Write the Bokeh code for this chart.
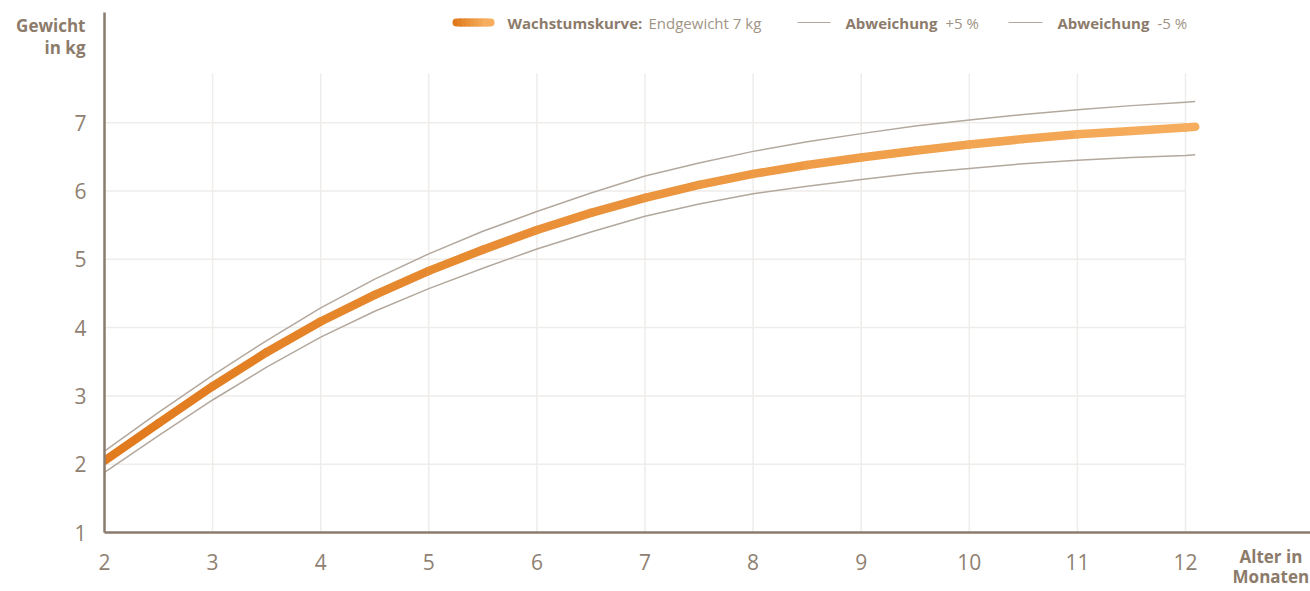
import numpy as np
from bokeh.plotting import figure
from bokeh.models import Range1d, FixedTicker, Label, LinearAxis
from bokeh.embed import file_html
from bokeh.resources import INLINE

# ---- data ----
months = [2, 2.5, 3, 3.5, 4, 4.5, 5, 5.5, 6, 6.5, 7, 7.5, 8, 8.5, 9, 9.5,
          10, 10.5, 11, 11.5, 12, 12.09]
weight_main = [2.05, 2.60, 3.14, 3.64, 4.09, 4.48, 4.83, 5.14, 5.43, 5.68, 5.90, 6.09,
               6.25, 6.38, 6.49, 6.59, 6.68, 6.76, 6.83, 6.88, 6.93, 6.94]
weight_upper = [2.19, 2.76, 3.30, 3.81, 4.29, 4.71, 5.08, 5.41, 5.70, 5.97, 6.22, 6.41,
                6.58, 6.72, 6.84, 6.95, 7.04, 7.12, 7.19, 7.25, 7.30, 7.31]
weight_lower = [1.88, 2.42, 2.94, 3.42, 3.86, 4.24, 4.57, 4.87, 5.15, 5.40, 5.63, 5.81,
                5.96, 6.07, 6.17, 6.26, 6.33, 6.40, 6.45, 6.49, 6.52, 6.53]
x_ticks = [2, 3, 4, 5, 6, 7, 8, 9, 10, 11, 12]
y_ticks = [1, 2, 3, 4, 5, 6, 7]

# ---- layout ----
W, H = 1310, 591
LEFT, RIGHT, TOP, BOTTOM = 104, 0, 12, 59
PX_X = 108.1   # px per month
PX_Y = 68.3    # px per kg
frame_w = W - LEFT - RIGHT
frame_h = H - TOP - BOTTOM
x0, y0 = 2, 1
x1 = x0 + frame_w / PX_X
y1 = y0 + frame_h / PX_Y

def dx(page_x):
    return x0 + (page_x - LEFT) / PX_X

def dy(page_y):
    return y0 + (H - BOTTOM - page_y) / PX_Y

FONT = "Open Sans"
TXT = "#8C7B6B"
TXT_LIGHT = "#A09485"
TICK_TXT = "#8F8172"
AXIS = "#8A7B6C"
GRID = "#EFEDEB"
THIN = "#B3A89E"
C_START = np.array([0xE0, 0x7A, 0x1C])
C_END = np.array([0xF6, 0xAE, 0x5E])

def mix(t):
    c = (C_START + (C_END - C_START) * t).round().astype(int)
    return "#%02x%02x%02x" % tuple(c)

p = figure(width=W, height=H, output_backend="svg", toolbar_location=None,
           title=None, x_range=Range1d(x0, x1), y_range=Range1d(y0, y1),
           min_border_left=LEFT, min_border_right=RIGHT,
           min_border_top=TOP, min_border_bottom=BOTTOM)
p.outline_line_color = None
p.background_fill_color = "white"
p.border_fill_color = "white"
p.xgrid.visible = False
p.ygrid.visible = False

# gridlines (custom extents)
grid_top = 7.72
vx = x_ticks[1:]
p.segment(x0=vx, y0=[y0] * len(vx), x1=vx, y1=[grid_top] * len(vx),
          line_color=GRID, line_width=1.5)
hy = y_ticks[1:]
p.segment(x0=[x0] * len(hy), y0=hy, x1=[x_ticks[-1]] * len(hy), y1=hy,
          line_color=GRID, line_width=1.5)

# deviation lines
p.line(months, weight_upper, line_color=THIN, line_width=1.5, line_join="round")
p.line(months, weight_lower, line_color=THIN, line_width=1.5, line_join="round")

# main curve with gradient
n = len(months) - 1
span = months[-1] - months[0]
seg_colors = [mix(((months[i] + months[i + 1]) / 2 - months[0]) / span) for i in range(n)]
p.segment(x0=months[:-1], y0=weight_main[:-1], x1=months[1:], y1=weight_main[1:],
          line_color=seg_colors, line_width=8.5, line_cap="round")

# axes
def style_axis(ax, size="21px", bold=False, color=TICK_TXT, line=True):
    ax.axis_line_color = AXIS if line else None
    ax.axis_line_width = 2.5
    ax.major_tick_line_color = None
    ax.minor_tick_line_color = None
    ax.major_tick_out = 0
    ax.major_tick_in = 0
    ax.minor_tick_out = 0
    ax.minor_tick_in = 0
    ax.major_label_text_color = color
    ax.major_label_text_font = FONT
    ax.major_label_text_font_size = size
    ax.major_label_text_font_style = "bold" if bold else "normal"

style_axis(p.xaxis[0])
style_axis(p.yaxis[0])
p.xaxis[0].ticker = FixedTicker(ticks=x_ticks)
p.yaxis[0].ticker = FixedTicker(ticks=y_ticks)
p.xaxis[0].major_label_standoff = 21
p.yaxis[0].major_label_standoff = 18

# axis titles as extra (line-less) axes
y_title_pos = [8.42, 8.1]
y_title_txt = ["Gewicht", "in kg"]
ytitle = LinearAxis(ticker=FixedTicker(ticks=y_title_pos),
                    major_label_overrides=dict(zip(y_title_pos, y_title_txt)))
style_axis(ytitle, size="17px", bold=True, color=TXT, line=False)
ytitle.major_label_standoff = -14
p.add_layout(ytitle, "left")

x_title_pos = [12.79]
x_title_txt = ["Alter in\nMonaten"]
xtitle = LinearAxis(ticker=FixedTicker(ticks=x_title_pos),
                    major_label_overrides=dict(zip(x_title_pos, x_title_txt)))
style_axis(xtitle, size="17px", bold=True, color=TXT, line=False)
xtitle.major_label_text_line_height = 0.87
xtitle.major_label_standoff = -28
p.add_layout(xtitle, "below")

# legend
def add_label(x, y, text, bold=False, color=TXT, size="15px", align="left", baseline="middle"):
    p.add_layout(Label(x=x, y=y, text=text, text_font=FONT, text_font_size=size,
                       text_font_style="bold" if bold else "normal",
                       text_color=color, text_align=align, text_baseline=baseline))

ly = dy(22)
sw = np.linspace(dx(456), dx(490), 9)
p.segment(x0=sw[:-1], y0=[ly] * 8, x1=sw[1:], y1=[ly] * 8,
          line_color=[mix(i / 7) for i in range(8)], line_width=8, line_cap="round")
add_label(dx(507), ly, "Wachstumskurve:", bold=True)
add_label(dx(648), ly, "Endgewicht 7 kg", color=TXT_LIGHT)
p.segment(x0=[dx(797), dx(1008)], y0=[ly, ly], x1=[dx(830), dx(1042)], y1=[ly, ly],
          line_color=THIN, line_width=1.2)
add_label(dx(845), ly, "Abweichung", bold=True)
add_label(dx(945), ly, "+5 %", color=TXT_LIGHT)
add_label(dx(1057), ly, "Abweichung", bold=True)
add_label(dx(1157), ly, "-5 %", color=TXT_LIGHT)

open("out.html", "w").write(file_html(p, INLINE))
